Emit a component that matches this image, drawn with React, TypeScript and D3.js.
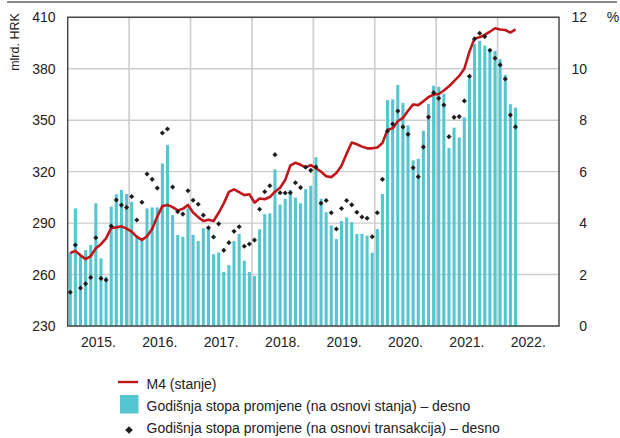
import React from "react";
import * as d3 from "d3";

// Monthly series, January 2015 – April 2022
const m4Stock = [
  272.6, 273.8, 271.2, 269.0, 270.8, 275.3, 277.7, 281.1, 287.2, 287.5, 288.1, 286.8,
  285.0, 282.0, 280.2, 282.3, 286.5, 293.8, 299.9, 300.6, 299.3, 297.4, 298.3, 300.6,
  296.2, 293.5, 291.2, 292.0, 291.2, 296.0, 301.5, 308.2, 309.7, 308.0, 306.3, 306.8,
  301.9, 304.3, 303.9, 305.2, 308.3, 310.6, 315.1, 323.5, 325.2, 324.0, 322.5, 323.8,
  322.0, 320.0, 317.3, 316.8, 319.2, 323.5, 330.5, 337.0, 336.0, 334.6, 333.6, 333.6,
  334.1, 336.7, 344.5, 345.3, 349.4, 351.3, 355.5, 359.2, 358.8, 361.1, 363.5, 365.0,
  365.3, 367.3, 369.8, 372.8, 375.8, 380.0, 390.0, 397.7, 398.4, 399.7, 401.6, 403.6,
  402.9, 402.6, 401.1, 402.9,
];

const rateStock = [
  2.85, 4.57, 2.7, 2.95, 3.15, 4.77, 2.63, 1.92, 4.64, 5.12, 5.29, 5.13,
  4.83, 3.53, 3.34, 4.57, 4.61, 4.61, 6.32, 7.04, 4.31, 3.54, 3.47, 4.57,
  3.54, 3.30, 3.80, 3.84, 2.79, 2.86, 2.10, 2.37, 3.30, 3.58, 2.54, 2.10,
  1.94, 3.76, 4.35, 4.38, 6.09, 4.72, 4.94, 5.29, 4.99, 4.77, 5.32, 5.45,
  6.56, 4.95, 4.42, 3.91, 3.38, 4.08, 4.22, 4.04, 3.58, 3.58, 3.51, 2.85,
  3.77, 5.13, 8.78, 8.81, 9.37, 8.67, 7.80, 6.44, 6.50, 7.59, 8.63, 9.34,
  9.30, 9.03, 6.92, 7.71, 7.33, 8.11, 9.72, 10.96, 11.09, 10.90, 10.75, 10.69,
  10.37, 9.76, 8.62, 8.49,
];

const rateTransactions = [
  1.31, 3.15, 1.48, 1.64, 1.89, 3.43, 1.85, 1.79, 3.89, 4.90, 4.70, 4.61,
  5.03, 4.12, 4.81, 5.91, 5.70, 5.36, 7.50, 7.66, 5.40, 4.44, 4.35, 5.26,
  4.89, 4.73, 4.31, 3.82, 3.46, 3.97, 2.94, 3.24, 3.68, 3.86, 3.10, 3.19,
  3.34, 4.54, 5.22, 5.45, 6.66, 5.18, 5.17, 5.18, 5.57, 5.38, 6.17, 6.05,
  6.18, 4.77, 4.88, 4.40, 3.77, 4.57, 4.88, 4.71, 4.42, 4.24, 4.19, 3.47,
  4.40, 5.70, 7.58, 7.85, 8.36, 7.74, 7.45, 6.15, 5.80, 6.96, 8.12, 9.07,
  8.85, 8.59, 7.36, 8.11, 8.14, 8.75, 9.71, 11.16, 11.38, 11.25, 10.72, 10.41,
  10.15, 9.60, 8.20, 7.74,
];

const yearLabels = ["2015.", "2016.", "2017.", "2018.", "2019.", "2020.", "2021.", "2022."];
const leftTicks = [230, 260, 290, 320, 350, 380, 410];
const rightTicks = [0, 2, 4, 6, 8, 10, 12];

const legendItems = [
  "M4 (stanje)",
  "Godišnja stopa promjene (na osnovi stanja) – desno",
  "Godišnja stopa promjene (na osnovi transakcija) – desno",
];

const W = 620;
const H = 438;
const plot = { left: 67.7, right: 559, top: 17.3, bottom: 326 };
const FONT = "'Liberation Sans', Arial, sans-serif";
const CYAN = "#55c6d0";
const RED = "#c0171d";
const GRID = "#cdcdcd";
const FRAME = "#4a4a4a";

export default function App() {
  const months = d3.range(yearLabels.length * 12);
  const x = d3
    .scaleBand<number>()
    .domain(months)
    .range([plot.left, plot.right])
    .paddingInner(0.4)
    .paddingOuter(0.2);
  const xc = (i: number) => (x(i) as number) + x.bandwidth() / 2;

  const yL = d3.scaleLinear().domain([230, 410]).range([plot.bottom, plot.top]);
  const yR = d3.scaleLinear().domain([0, 12]).range([plot.bottom, plot.top]);

  const linePath = d3
    .line<number>()
    .x((_, i) => xc(i))
    .y((d) => yL(d))(m4Stock) as string;

  // symmetric diamonds: squares turned by 45 degrees
  const marker = d3.symbol(d3.symbolSquare, 13)() as string;
  const legendMarker = d3.symbol(d3.symbolSquare, 30)() as string;

  const yearEdge = (k: number) => plot.left + (plot.right - plot.left) * (k / yearLabels.length);

  return (
    <svg
      width={W}
      height={H}
      style={{ position: "absolute", left: 0, top: 0, background: "#fff" }}
      fontFamily={FONT}
    >
      <line x1={7} x2={617} y1={2} y2={2} stroke="#8a8a8a" strokeWidth={2} />

      {/* grid */}
      {leftTicks.map((t) => (
        <line key={"h" + t} x1={plot.left} x2={plot.right} y1={yL(t)} y2={yL(t)} stroke={GRID} strokeWidth={1.4} />
      ))}
      {d3.range(1, yearLabels.length).map((k) => (
        <line key={"v" + k} x1={yearEdge(k)} x2={yearEdge(k)} y1={plot.top} y2={plot.bottom} stroke={GRID} strokeWidth={1.6} />
      ))}

      {/* bars: growth rate based on stock */}
      {rateStock.map((v, i) => (
        <rect key={"b" + i} x={x(i)} y={yR(v)} width={x.bandwidth()} height={plot.bottom - yR(v)} fill={CYAN} />
      ))}

      {/* frame */}
      <rect
        x={plot.left}
        y={plot.top}
        width={plot.right - plot.left}
        height={plot.bottom - plot.top}
        fill="none"
        stroke={FRAME}
        strokeWidth={1.5}
      />

      {/* M4 stock line */}
      <path d={linePath} fill="none" stroke={RED} strokeWidth={2.6} strokeLinejoin="round" />

      {/* growth rate based on transactions */}
      {rateTransactions.map((v, i) => (
        <path
          key={"d" + i}
          d={marker}
          transform={`translate(${xc(i)},${yR(v)}) rotate(45)`}
          fill="#1e1e1e"
        />
      ))}

      {/* left axis */}
      {leftTicks.map((t) => (
        <text key={"lt" + t} x={55.5} y={yL(t)} dy="0.36em" textAnchor="end" fontSize={14} fill="#222">
          {t}
        </text>
      ))}
      <text transform={`translate(19,42) rotate(-90)`} textAnchor="middle" fontSize={12.5} fill="#222">
        mlrd. HRK
      </text>

      {/* right axis */}
      {rightTicks.map((t) => (
        <text key={"rt" + t} x={587} y={yR(t)} dy="0.36em" textAnchor="end" fontSize={14} fill="#222">
          {t}
        </text>
      ))}
      <text x={613} y={yR(12)} dy="0.36em" textAnchor="middle" fontSize={14} fill="#222">
        %
      </text>

      {/* year labels */}
      {yearLabels.map((lab, k) => (
        <text
          key={lab}
          x={(yearEdge(k) + yearEdge(k + 1)) / 2}
          y={346.5}
          textAnchor="middle"
          fontSize={14}
          fill="#222"
        >
          {lab}
        </text>
      ))}

      {/* legend */}
      <g fontSize={14} fill="#222">
        <line x1={118} x2={138} y1={382} y2={382} stroke={RED} strokeWidth={2.4} />
        <text x={146.5} y={389}>{legendItems[0]}</text>
        <rect x={120} y={395} width={18.5} height={18.5} fill={CYAN} />
        <text x={146.5} y={410.5}>{legendItems[1]}</text>
        <path d={legendMarker} transform="translate(129,430) rotate(45)" fill="#1e1e1e" />
        <text x={146.5} y={432.5}>{legendItems[2]}</text>
      </g>
    </svg>
  );
}
